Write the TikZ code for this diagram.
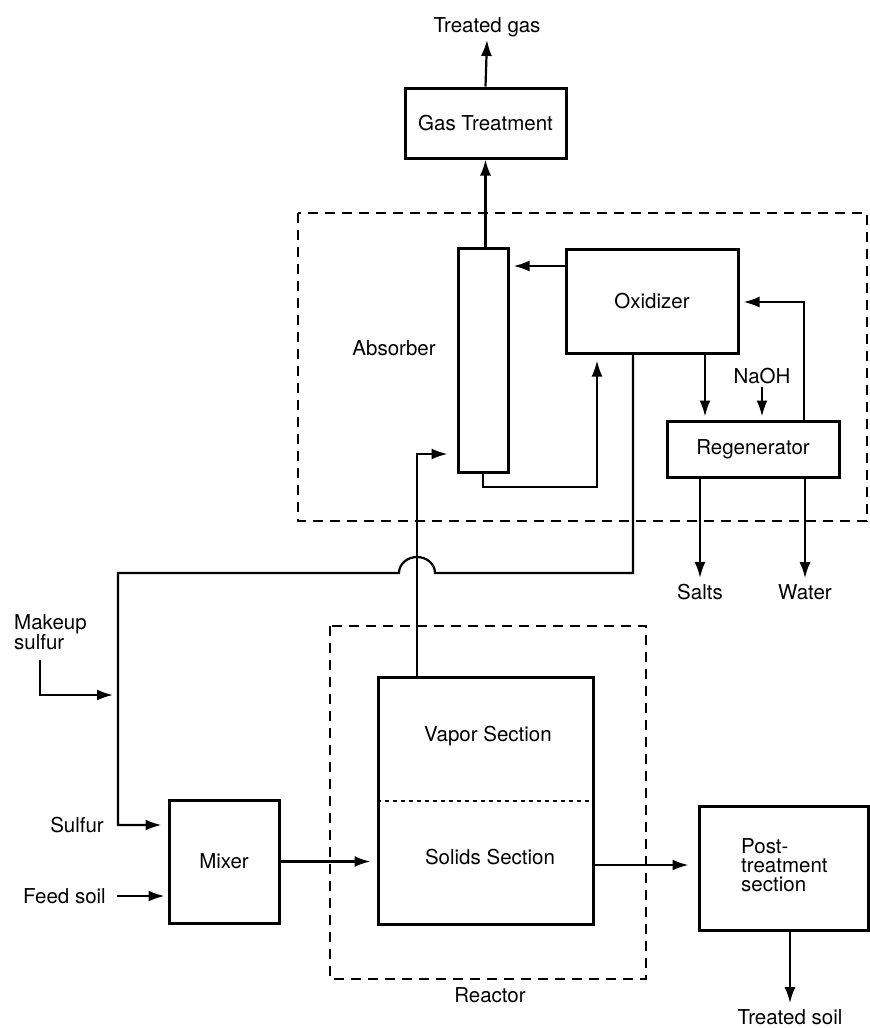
\documentclass[tikz,border=0pt]{standalone}
\usepackage{fontspec}
\setmainfont{TeX Gyre Heros}
\usetikzlibrary{arrows.meta}
\begin{document}
\begin{tikzpicture}[x=1pt,y=-1pt,
  box/.style={draw,line width=3pt,inner sep=0pt,align=center},
  lbl/.style={inner sep=3pt,align=center},
  conn/.style={line width=2.2pt},
  arr/.style={conn,-{Latex[length=16pt,width=11pt]}},
  area/.style={line width=2.6pt,dash pattern=on 10pt off 7pt},
  every node/.style={font=\fontsize{20.5}{22}\selectfont}]
\useasboundingbox (0,0) rectangle (870,1028);

% areas
\draw[area] (298,213) rectangle (867,521);
\draw[area] (330,626) rectangle (646,979);

% nodes
\node[lbl] (tg) at (487,27) {Treated gas};
\node[box,minimum width=161pt,minimum height=70pt] (gas) at (485.5,123) {Gas Treatment};
\node[box,minimum width=50pt,minimum height=224pt] (abs) at (483,360) {};
\node[lbl] (abslbl) at (394,348) {Absorber};
\node[box,minimum width=172pt,minimum height=104pt] (ox) at (652,301) {Oxidizer};
\node[box,minimum width=172pt,minimum height=56pt] (reg) at (753,449) {Regenerator};
\node[lbl] (naoh) at (762,376) {NaOH};
\node[lbl,inner sep=6pt] (salts) at (700,592) {Salts};
\node[lbl,inner sep=6pt] (water) at (805,592) {Water};
\node[lbl,align=left,anchor=west,inner sep=0pt] (mu) at (14,632) {Makeup\\[-2pt]sulfur};
\node[lbl,anchor=east,inner sep=0pt] (sul) at (104,825) {Sulfur};
\node[lbl,anchor=east,inner sep=0pt] (fs) at (106,896) {Feed soil};
\node[box,minimum width=110pt,minimum height=123pt] (mix) at (224,861.5) {Mixer};
\node[box,minimum width=215pt,minimum height=247pt] (rea) at (485.5,800.5) {};
\node[lbl] (vap) at (488,736) {Vapor Section};
\node[lbl] (sol) at (490,857) {Solids Section};
\node[lbl] (rlbl) at (490,995) {Reactor};
\node[box,minimum width=169pt,minimum height=124pt] (post) at (783.5,868) {};
\node[lbl,align=left,anchor=west,inner sep=0pt] (postlbl) at (741,865) {Post-\\[-3pt]treatment\\[-3pt]section};
\node[lbl,inner sep=6pt] (ts) at (790,1017) {Treated soil};

% dotted divider in reactor
\draw[line width=2pt,dash pattern=on 4pt off 4pt] (rea.west |- 0,801) -- (rea.east |- 0,801);

% coordinates
\coordinate (hopR) at (435,573);
\coordinate (mk) at (40,660);

% connectors
\draw[arr] (gas.north) -- (tg.south);
\draw[arr] (abs.north -| gas.south) -- (gas.south);
\draw[arr,shorten >=4pt] (ox.west |- 0,266) -- (abs.east |- 0,266);
\draw[arr,shorten >=6pt] (abs.south) |- (597,487) -- (ox.south -| 597,0);
\draw[arr,shorten >=3pt] (ox.south -| 705,0) -- (reg.north -| 705,0);
\draw[arr,shorten >=3pt] (naoh.south) -- (reg.north -| naoh.south);
\draw[arr,shorten >=4pt] (reg.north -| 804,0) |- (ox.east |- 0,302);
\draw[arr] (reg.south -| salts.north) -- (salts.north);
\draw[arr] (reg.south -| water.north) -- (water.north);
\draw[arr,shorten >=6pt] (ox.south -| 633,0) |- (hopR)
  arc[start angle=0,end angle=-180,x radius=18,y radius=16]
  -- (118,573) |- (mix.west |- sul.east);
\draw[arr,shorten >=5pt] (mk) |- (118,695);
\draw[arr,shorten >=3pt] ([xshift=11pt]fs.east) -- (mix.west |- fs.east);
\draw[arr,shorten >=6pt] (mix.east) -- (rea.west |- mix.east);
\draw[arr,shorten >=9pt] (rea.north -| 417,0) |- (abs.west |- 0,454);
\draw[arr,shorten >=9pt] (rea.east |- 0,865) -- (post.west |- 0,865);
\draw[arr] (post.south -| ts.north) -- (ts.north);
\end{tikzpicture}
\end{document}
